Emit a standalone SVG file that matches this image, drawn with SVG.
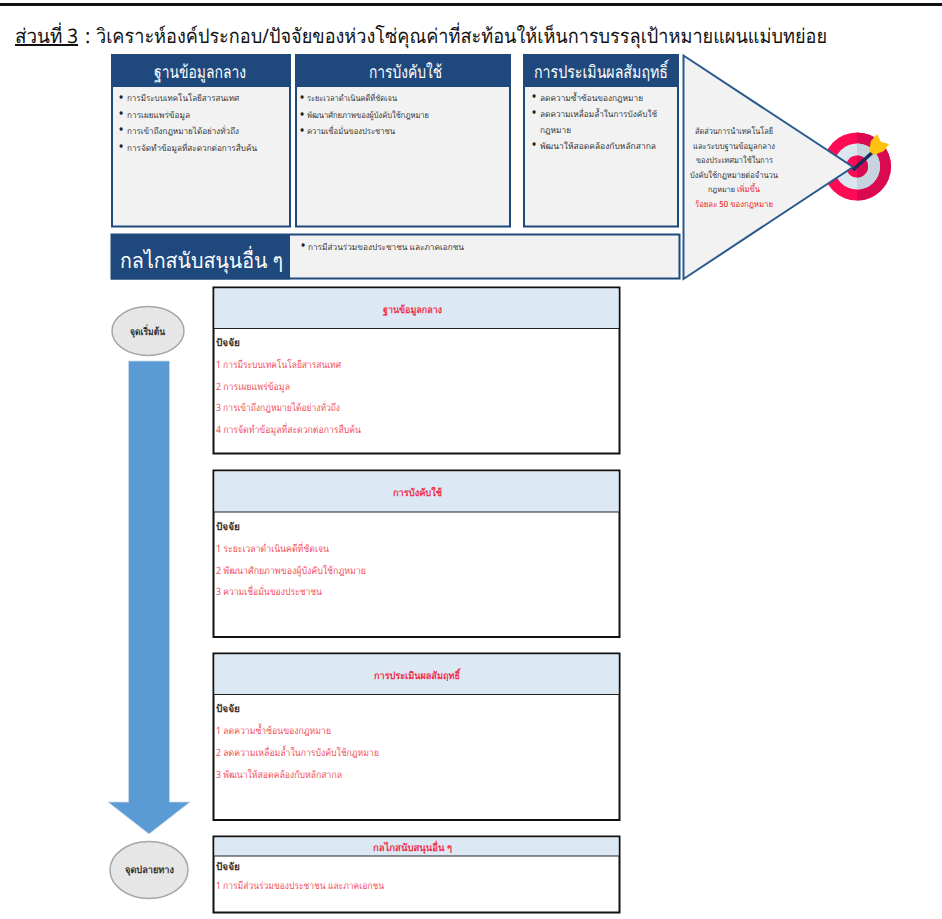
<svg xmlns="http://www.w3.org/2000/svg" width="942" height="919" viewBox="0 0 942 919">
<style>
text{font-family:"Noto Sans","Liberation Sans",sans-serif;text-rendering:geometricPrecision}
.hd{fill:#1f497d}
.panel{fill:#f2f2f2;stroke:#1f497d;stroke-width:2}
.ht{fill:#fff;font-size:17.500px}
.bl{fill:#333;font-size:8.500px;font-weight:500}
.dot{fill:#222;font-size:11px;font-weight:700}
.tb{fill:#fff;stroke:#111;stroke-width:2}
.th{fill:#dce9f5}
.tl{stroke:#222;stroke-width:1;fill:none}
.tt{fill:#f0304a;font-size:10px;font-weight:600}
.pj{fill:#333;font-size:10px;font-weight:600}
.it{fill:#f2505c;font-size:10px}
.el{fill:#e6e6e6;stroke:#a6a6a6;stroke-width:1.500}
.et{fill:#333;font-size:10px;font-weight:600}
.tri{fill:#333;font-size:8.500px;font-weight:500}
.red{fill:#f01c2c}
.ti{font-size:20px;fill:#111}
</style>
<rect x="0" y="3" width="942" height="3" fill="#111"/>
<text class="ti" x="15" y="43" text-decoration="underline" textLength="63" lengthAdjust="spacingAndGlyphs">ส่วนที่ 3</text>
<text class="ti" x="85" y="43">:</text>
<text class="ti" x="96" y="43" textLength="731" lengthAdjust="spacingAndGlyphs">วิเคราะห์องค์ประกอบ/ปัจจัยของห่วงโซ่คุณค่าที่สะท้อนให้เห็นการบรรลุเป้าหมายแผนแม่บทย่อย</text>
<g id="box-data">
<rect class="panel" x="112" y="55" width="178" height="171.500"/><rect class="hd" x="111" y="54" width="180" height="33"/>
<text class="ht" x="154" y="78" textLength="92" lengthAdjust="spacingAndGlyphs">ฐานข้อมูลกลาง</text>
<text class="dot" x="119" y="101">•</text><text class="bl" x="127" y="101" textLength="112" lengthAdjust="spacingAndGlyphs">การมีระบบเทคโนโลยีสารสนเทศ</text>
<text class="dot" x="119" y="117">•</text><text class="bl" x="127" y="118" textLength="63" lengthAdjust="spacingAndGlyphs">การเผยแพร่ข้อมูล</text>
<text class="dot" x="119" y="133">•</text><text class="bl" x="127" y="134" textLength="112" lengthAdjust="spacingAndGlyphs">การเข้าถึงกฎหมายได้อย่างทั่วถึง</text>
<text class="dot" x="119" y="150">•</text><text class="bl" x="127" y="151" textLength="130" lengthAdjust="spacingAndGlyphs">การจัดทำข้อมูลที่สะดวกต่อการสืบค้น</text>
</g>
<g id="box-enforce">
<rect class="panel" x="296" y="55" width="214" height="171.500"/><rect class="hd" x="295" y="54" width="216" height="33"/>
<text class="ht" x="369" y="78" textLength="73" lengthAdjust="spacingAndGlyphs">การบังคับใช้</text>
<text class="dot" x="300" y="101">•</text><text class="bl" x="307" y="101" textLength="90" lengthAdjust="spacingAndGlyphs">ระยะเวลาดำเนินคดีที่ชัดเจน</text>
<text class="dot" x="300" y="118">•</text><text class="bl" x="307" y="118" textLength="122" lengthAdjust="spacingAndGlyphs">พัฒนาศักยภาพของผู้บังคับใช้กฎหมาย</text>
<text class="dot" x="300" y="134">•</text><text class="bl" x="307" y="134" textLength="88" lengthAdjust="spacingAndGlyphs">ความเชื่อมั่นของประชาชน</text>
</g>
<g id="box-eval">
<rect class="panel" x="524" y="55" width="154" height="171.500"/><rect class="hd" x="523" y="54" width="156" height="33"/>
<text class="ht" x="534" y="78" textLength="134" lengthAdjust="spacingAndGlyphs">การประเมินผลสัมฤทธิ์</text>
<text class="dot" x="532" y="100">•</text><text class="bl" x="540" y="101" textLength="103" lengthAdjust="spacingAndGlyphs">ลดความซ้ำซ้อนของกฎหมาย</text>
<text class="dot" x="532" y="116">•</text><text class="bl" x="540" y="117" textLength="117" lengthAdjust="spacingAndGlyphs">ลดความเหลื่อมล้ำในการบังคับใช้</text>
<text class="bl" x="540" y="133" textLength="31" lengthAdjust="spacingAndGlyphs">กฎหมาย</text>
<text class="dot" x="532" y="148">•</text><text class="bl" x="540" y="149" textLength="116" lengthAdjust="spacingAndGlyphs">พัฒนาให้สอดคล้องกับหลักสากล</text>
</g>
<g id="box-support">
<rect class="panel" x="111.500" y="234.500" width="568" height="44"/><rect class="hd" x="111" y="234" width="179" height="45.500"/>
<text class="ht" x="120" y="268" style="font-size:21.500px" textLength="163" lengthAdjust="spacingAndGlyphs">กลไกสนับสนุนอื่น ๆ</text>
<text class="dot" x="301" y="249">•</text><text class="bl" x="308" y="250" textLength="156" lengthAdjust="spacingAndGlyphs">การมีส่วนร่วมของประชาชน  และภาคเอกชน</text>
</g>
<g id="target">
<circle cx="857" cy="166.500" r="34" fill="#ff0a54"/>
<path d="M857 132.500A34 34 0 0 1 857 200.500Z" fill="#d90a50"/>
<circle cx="857" cy="166.500" r="23" fill="#dbe6ef"/>
<path d="M857 143.500A23 23 0 0 1 857 189.500Z" fill="#c6d4df"/>
<circle cx="857" cy="166.500" r="11" fill="#ff0a54"/>
<path d="M857 155.500A11 11 0 0 1 857 177.500Z" fill="#d90a50"/>
</g>
<g id="goal">
<path d="M683.500 55.500L853 167L683.500 279Z" fill="#f2f2f2" stroke="#2a5a8c" stroke-width="2"/>
<text class="tri" x="695" y="134" textLength="78" lengthAdjust="spacingAndGlyphs">สัดส่วนการนำเทคโนโลยี</text>
<text class="tri" x="693" y="149" textLength="82" lengthAdjust="spacingAndGlyphs">และระบบฐานข้อมูลกลาง</text>
<text class="tri" x="696" y="163" textLength="77" lengthAdjust="spacingAndGlyphs">ของประเทศมาใช้ในการ</text>
<text class="tri" x="690" y="178" textLength="88" lengthAdjust="spacingAndGlyphs">บังคับใช้กฎหมายต่อจำนวน</text>
<text class="tri" x="708" y="192" style="font-size:7.500px" textLength="27" lengthAdjust="spacingAndGlyphs">กฎหมาย</text>
<text class="tri red" x="737" y="192" textLength="23" lengthAdjust="spacingAndGlyphs">เพิ่มขึ้น</text>
<text class="tri red" x="695" y="207" textLength="78" lengthAdjust="spacingAndGlyphs">ร้อยละ 50 ของกฎหมาย</text>
</g>
<g id="dart">
<path d="M853 170L875 150" stroke="#1c2b5a" stroke-width="3.500"/>
<path d="M869 151L871 141L877 134L881 142L889 144L884 151L874 155Z" fill="#ffc20e"/>
</g>
<g id="connectors">
<path d="M128.500 361H169.500V802H190L149 834L108 802H128.500Z" fill="#5b9bd5" stroke="#c9d9e8" stroke-width="0.800"/>
</g>
<g id="start"><ellipse class="el" cx="148" cy="331" rx="36" ry="24.500"/><text class="et" x="130" y="335" textLength="35" lengthAdjust="spacingAndGlyphs">จุดเริ่มต้น</text></g>
<g id="end"><ellipse class="el" cx="149" cy="870" rx="39" ry="28.500"/><text class="et" x="125" y="873" textLength="49" lengthAdjust="spacingAndGlyphs">จุดปลายทาง</text></g>
<g id="t1">
<rect class="tb" x="213.500" y="287.500" width="406" height="166"/><rect class="th" x="214.500" y="288.500" width="404" height="40"/><path class="tl" d="M214 328.500H619"/>
<text class="tt" x="383" y="313" textLength="59" lengthAdjust="spacingAndGlyphs">ฐานข้อมูลกลาง</text>
<text class="pj" x="216" y="346">ปัจจัย</text>
<text class="it" x="216" y="368" textLength="125" lengthAdjust="spacingAndGlyphs">1 การมีระบบเทคโนโลยีสารสนเทศ</text>
<text class="it" x="216" y="390" textLength="74" lengthAdjust="spacingAndGlyphs">2 การเผยแพร่ข้อมูล</text>
<text class="it" x="216" y="411" textLength="124" lengthAdjust="spacingAndGlyphs">3 การเข้าถึงกฎหมายได้อย่างทั่วถึง</text>
<text class="it" x="216" y="433" textLength="145" lengthAdjust="spacingAndGlyphs">4 การจัดทำข้อมูลที่สะดวกต่อการสืบค้น</text>
</g>
<g id="t2">
<rect class="tb" x="213.500" y="470.500" width="406" height="166.500"/><rect class="th" x="214.500" y="471.500" width="404" height="40.500"/><path class="tl" d="M214 512H619"/>
<text class="tt" x="393" y="496" textLength="49" lengthAdjust="spacingAndGlyphs">การบังคับใช้</text>
<text class="pj" x="216" y="530">ปัจจัย</text>
<text class="it" x="216" y="552" textLength="113" lengthAdjust="spacingAndGlyphs">1 ระยะเวลาดำเนินคดีที่ชัดเจน</text>
<text class="it" x="216" y="574" textLength="150" lengthAdjust="spacingAndGlyphs">2 พัฒนาศักยภาพของผู้บังคับใช้กฎหมาย</text>
<text class="it" x="216" y="595" textLength="106" lengthAdjust="spacingAndGlyphs">3 ความเชื่อมั่นของประชาชน</text>
</g>
<g id="t3">
<rect class="tb" x="213.500" y="653.500" width="406" height="166.500"/><rect class="th" x="214.500" y="654.500" width="404" height="40"/><path class="tl" d="M214 694.500H619"/>
<text class="tt" x="374" y="679" textLength="86" lengthAdjust="spacingAndGlyphs">การประเมินผลสัมฤทธิ์</text>
<text class="pj" x="216" y="712">ปัจจัย</text>
<text class="it" x="216" y="734" textLength="115" lengthAdjust="spacingAndGlyphs">1 ลดความซ้ำซ้อนของกฎหมาย</text>
<text class="it" x="216" y="756" textLength="163" lengthAdjust="spacingAndGlyphs">2 ลดความเหลื่อมล้ำในการบังคับใช้กฎหมาย</text>
<text class="it" x="216" y="778" textLength="126" lengthAdjust="spacingAndGlyphs">3 พัฒนาให้สอดคล้องกับหลักสากล</text>
</g>
<g id="t4">
<rect class="tb" x="213.500" y="836.500" width="406" height="76"/><rect class="th" x="214.500" y="837.500" width="404" height="18.500"/><path class="tl" d="M214 856H619"/>
<text class="tt" x="373" y="851" textLength="79" lengthAdjust="spacingAndGlyphs">กลไกสนับสนุนอื่น ๆ</text>
<text class="pj" x="216" y="870">ปัจจัย</text>
<text class="it" x="216" y="889" textLength="168" lengthAdjust="spacingAndGlyphs">1 การมีส่วนร่วมของประชาชน และภาคเอกชน</text>
</g>
</svg>
